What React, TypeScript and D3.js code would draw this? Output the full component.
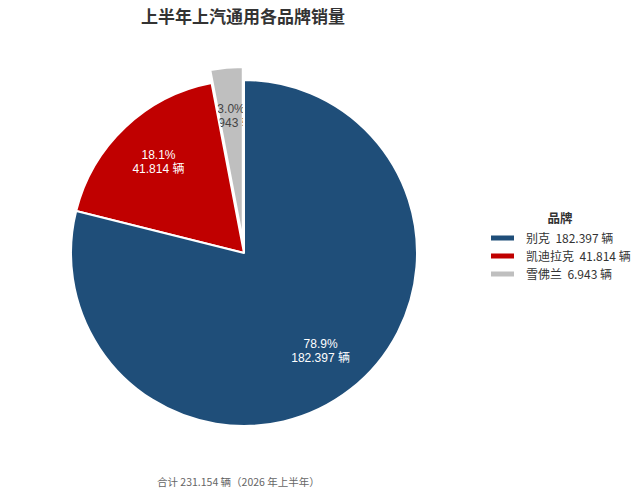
import React from "react";
import * as d3 from "d3";

const brands = ["别克", "凯迪拉克", "雪佛兰"];
const sales = [182397, 41814, 6943];
const salesText = ["182.397", "41.814", "6.943"];
const colors = ["#1f4e79", "#c00000", "#bfbfbf"];
const labelColors = ["#ffffff", "#ffffff", "#444444"];
const explode = [0, 0, 13];
const title = "上半年上汽通用各品牌销量";
const legendTitle = "品牌";
const footer = "合计 231.154 辆（2026 年上半年）";

const FONT = "'Noto Sans CJK SC', 'Noto Sans', sans-serif";
const LABEL_FONT = "'Liberation Sans', 'Noto Sans CJK SC', sans-serif";

export default function App() {
  const W = 640, H = 498;
  const cx = 244, cy = 253, r = 173;
  const total = d3.sum(sales);
  const pie = d3.pie<number>().sort(null).value((d) => d)(sales);
  const arc = d3.arc<d3.PieArcDatum<number>>().innerRadius(0).outerRadius(r);
  const labelArc = d3.arc<d3.PieArcDatum<number>>().innerRadius(r * 0.72 * 2).outerRadius(0);
  const fmtPct = d3.format(".1%");
  const order = pie.map((_, i) => i).reverse();

  return (
    <svg width={W} height={H} style={{ position: "absolute", left: 0, top: 0, background: "#fff" }} fontFamily={FONT}>
      <text x={243} y={23} textAnchor="middle" fontSize={17} fontWeight="bold" fill="#333">{title}</text>
      <g transform={`translate(${cx},${cy})`}>
        {order.map((i) => {
          const p = pie[i];
          const mid = (p.startAngle + p.endAngle) / 2;
          const dx = Math.sin(mid) * explode[i];
          const dy = -Math.cos(mid) * explode[i];
          const [lx, ly] = labelArc.centroid(p);
          return (
            <g key={i} transform={`translate(${dx},${dy})`}>
              <path d={arc(p) || ""} fill={colors[i]} stroke="#fff" strokeWidth={2} strokeLinejoin="round" />
              <text x={lx} y={ly - 3} textAnchor="middle" fontSize={12} fontFamily={LABEL_FONT} fill={labelColors[i]}>{fmtPct(sales[i] / total)}</text>
              <text x={lx} y={ly + 11} textAnchor="middle" fontSize={12} fontFamily={LABEL_FONT} fill={labelColors[i]}>{`${salesText[i]} 辆`}</text>
            </g>
          );
        })}
      </g>
      <g>
        <text x={560} y={223} textAnchor="middle" fontSize={12.5} fontWeight="bold" fill="#333">{legendTitle}</text>
        {brands.map((b, i) => (
          <g key={b} transform={`translate(491,${238 + i * 18})`}>
            <rect x={0} y={-2.5} width={23} height={5} fill={colors[i]} />
            <text x={35} y={4.5} fontSize={12} fill="#333" style={{ whiteSpace: "pre" }}>{`${b}  ${salesText[i]} 辆`}</text>
          </g>
        ))}
      </g>
      <text x={157} y={486} fontSize={10.5} fill="#666">{footer}</text>
    </svg>
  );
}
